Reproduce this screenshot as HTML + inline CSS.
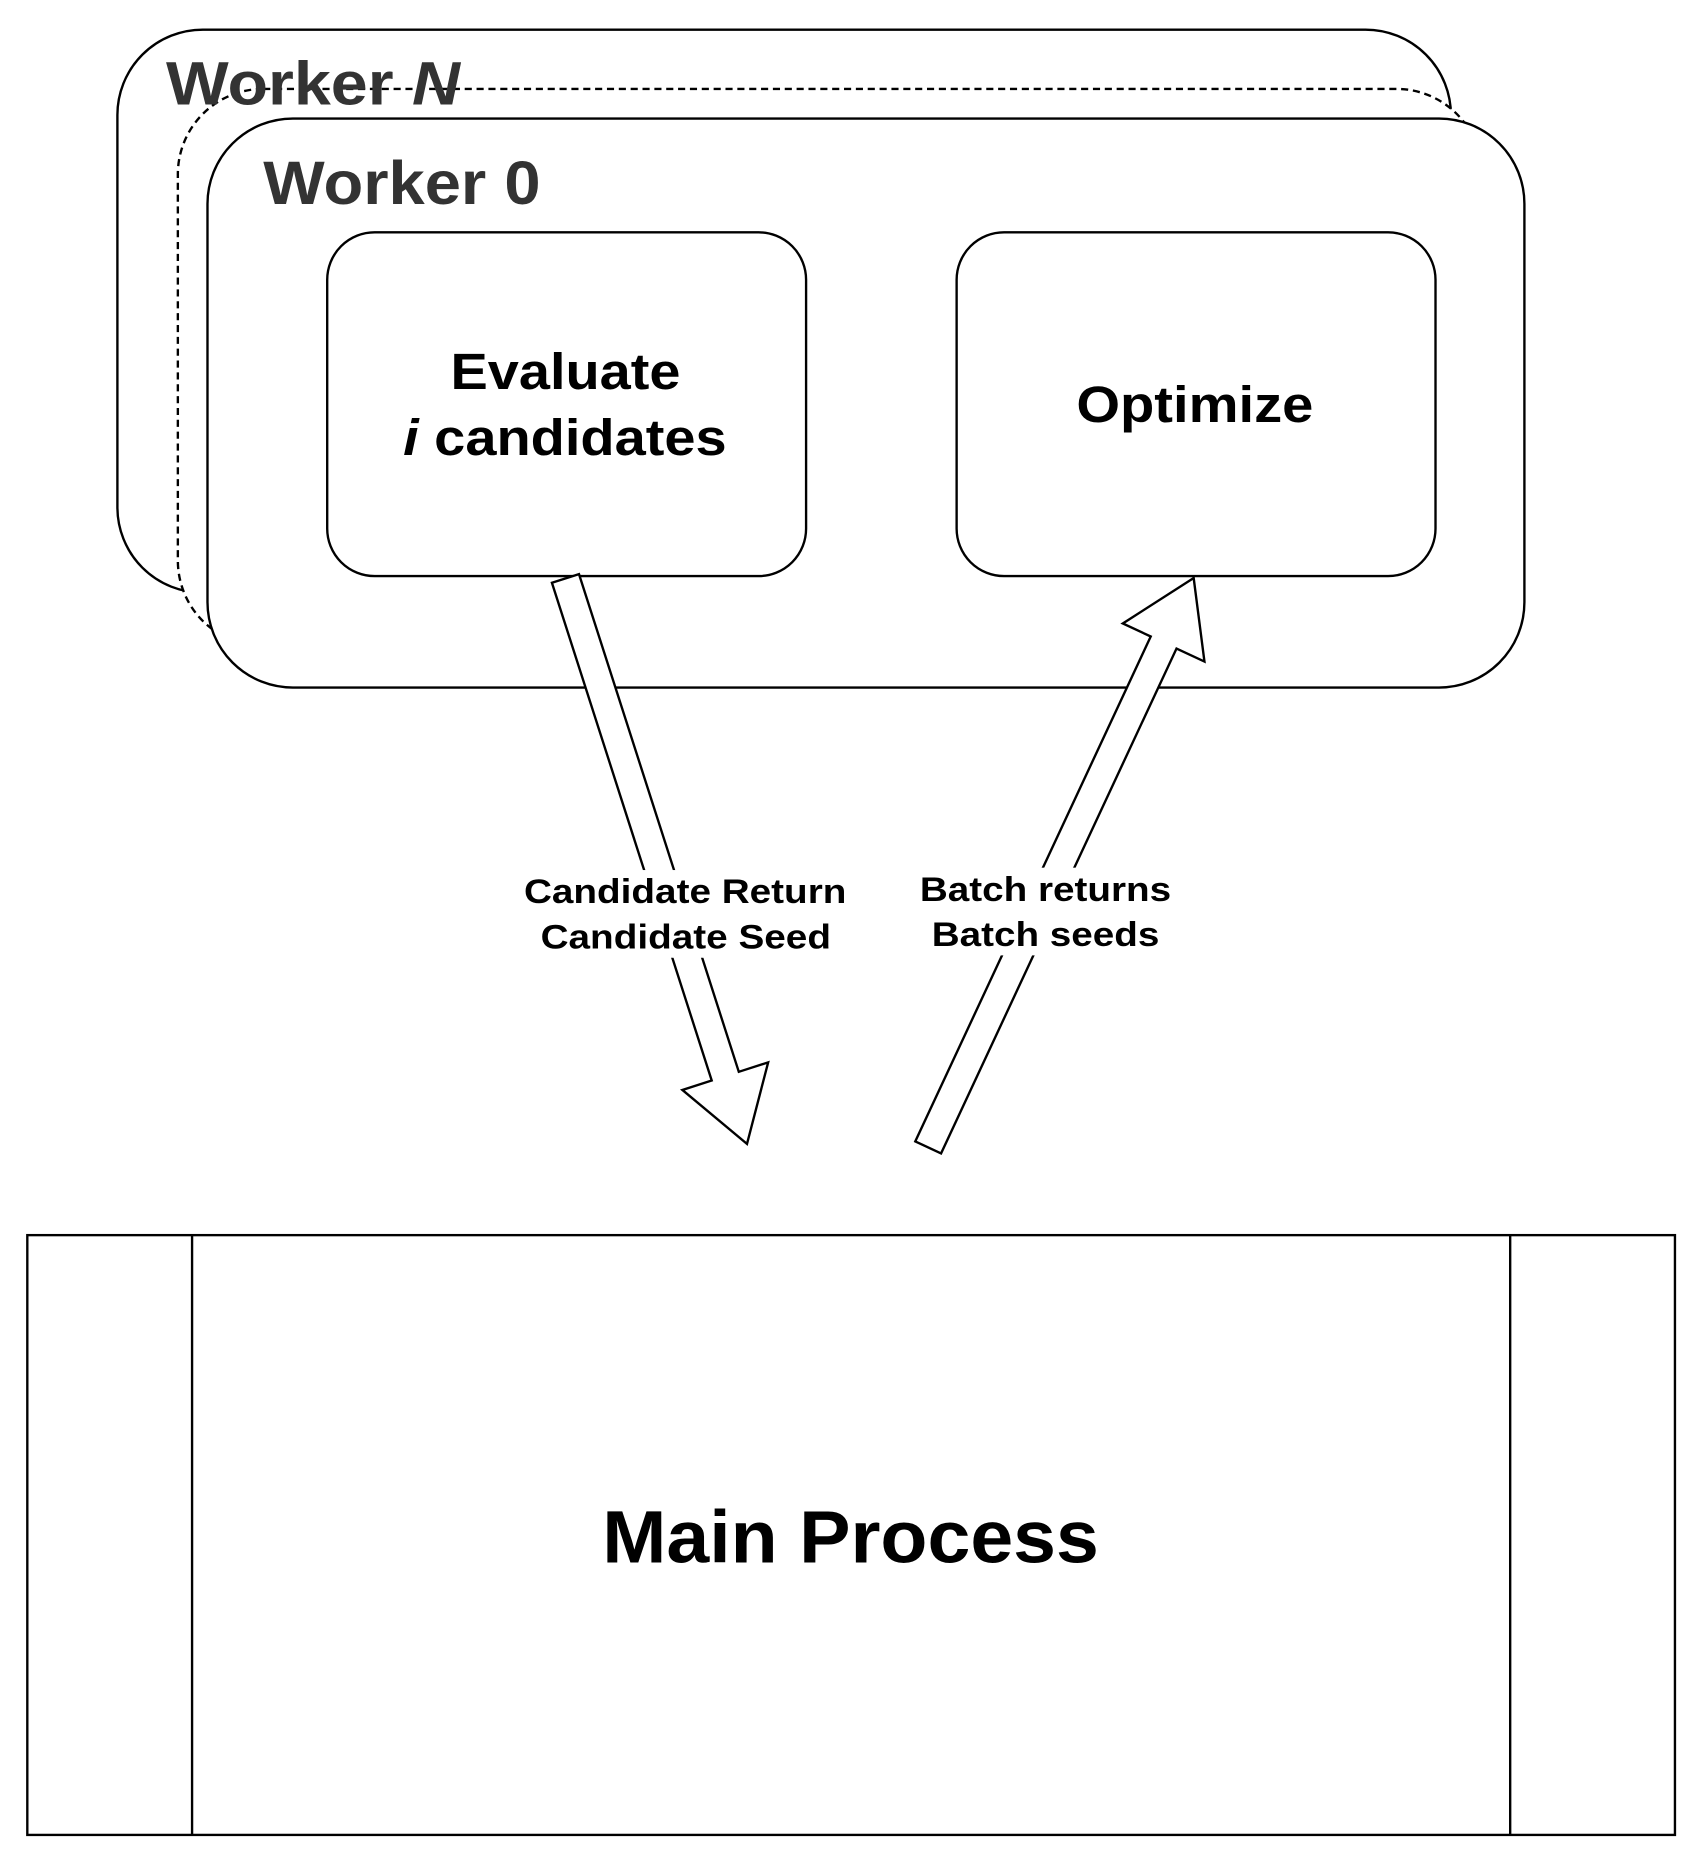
<!DOCTYPE html>
<html><head><meta charset="utf-8"><style>html,body{margin:0;padding:0;background:#fff}svg{display:block}</style></head>
<body>
<svg width="1707" height="1861" viewBox="0 0 1440 1570" xmlns="http://www.w3.org/2000/svg" font-family="Liberation Sans, Arial, sans-serif" font-weight="bold">
<rect x="99" y="25" width="1125" height="475" rx="72" fill="#fff" stroke="#000" stroke-width="2"/>
<rect x="150" y="75" width="1100" height="470" rx="72" fill="#fff" stroke="#000" stroke-width="2" stroke-dasharray="6,4"/>
<text x="140" y="88" font-size="52" fill="#333" textLength="248" lengthAdjust="spacingAndGlyphs">Worker <tspan font-style="italic">N</tspan></text>
<rect x="175" y="100" width="1111" height="480" rx="72" fill="#fff" stroke="#000" stroke-width="2"/>
<text x="222" y="172" font-size="52" fill="#333" textLength="234" lengthAdjust="spacingAndGlyphs">Worker 0</text>
<rect x="276" y="196" width="404" height="290" rx="40" fill="#fff" stroke="#000" stroke-width="2"/>
<rect x="807" y="196" width="404" height="290" rx="40" fill="#fff" stroke="#000" stroke-width="2"/>
<text x="380" y="328" font-size="43" textLength="194" lengthAdjust="spacingAndGlyphs">Evaluate</text>
<text x="340" y="384" font-size="43" textLength="273" lengthAdjust="spacingAndGlyphs"><tspan font-style="italic">i</tspan> candidates</text>
<text x="908" y="356" font-size="43" textLength="200" lengthAdjust="spacingAndGlyphs">Optimize</text>
<g transform="translate(477,488) rotate(72.2)"><polygon points="0,-12 441,-12 441,-38 501,0 441,38 441,12 0,12" fill="#fff" stroke="#000" stroke-width="2"/></g>
<g transform="translate(783,968) rotate(-65)"><polygon points="0,-12 470,-12 470,-38 530,0 470,38 470,12 0,12" fill="#fff" stroke="#000" stroke-width="2"/></g>
<rect x="440" y="734" width="276" height="74" fill="#fff"/>
<rect x="772" y="732" width="220" height="74" fill="#fff"/>
<text x="442" y="762" font-size="29" textLength="272" lengthAdjust="spacingAndGlyphs">Candidate Return</text>
<text x="456" y="800" font-size="29" textLength="245" lengthAdjust="spacingAndGlyphs">Candidate Seed</text>
<text x="776" y="760" font-size="29" textLength="212" lengthAdjust="spacingAndGlyphs">Batch returns</text>
<text x="786" y="798" font-size="29" textLength="192" lengthAdjust="spacingAndGlyphs">Batch seeds</text>
<rect x="23" y="1042" width="1390" height="506" fill="#fff" stroke="#000" stroke-width="2"/>
<line x1="162" y1="1042" x2="162" y2="1548" stroke="#000" stroke-width="2"/>
<line x1="1274" y1="1042" x2="1274" y2="1548" stroke="#000" stroke-width="2"/>
<text x="508" y="1318" font-size="63" textLength="419" lengthAdjust="spacingAndGlyphs">Main Process</text>
</svg>
</body></html>
